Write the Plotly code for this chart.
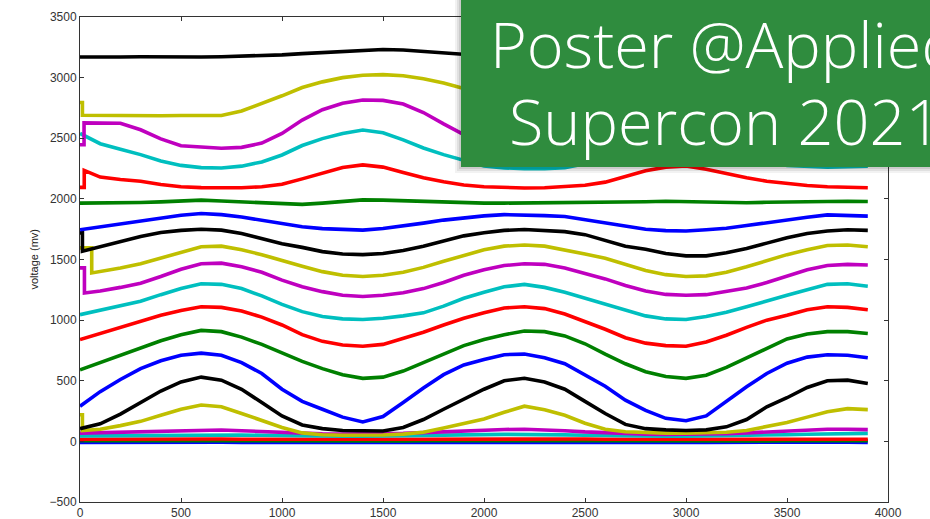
import plotly.graph_objects as go

# ---------------- data ----------------
x_grid = list(range(0, 4000, 100))  # 0 .. 3900

black_top = [3170,3168,3170,3172,3170,3168,3170,3172,3175,3180,3188,3198,3208,3218,3228,3232,3228,3215,3200,3188,
             3180,3175,3172,3172,3175,3185,3198,3210,3220,3228,3230,3225,3212,3198,3185,3178,3175,3175,3178,3185]
yellow_top = [2690,2688,2688,2686,2686,2688,2686,2688,2725,2785,2850,2918,2965,3000,3020,3025,3015,2990,2955,2910,
              2860,2810,2770,2745,2745,2775,2830,2890,2945,2980,2992,2975,2935,2885,2835,2790,2760,2745,2745,2755]
magenta_top = [2627,2627,2624,2570,2495,2438,2425,2418,2425,2460,2540,2650,2735,2788,2815,2812,2782,2712,2618,2530,
               2460,2420,2400,2398,2418,2468,2548,2638,2718,2778,2800,2782,2722,2632,2542,2470,2420,2400,2396,2400]
cyan_top = [2540,2455,2410,2365,2312,2276,2258,2255,2270,2305,2362,2440,2497,2540,2568,2545,2487,2420,2365,2315,
            2272,2256,2248,2248,2258,2290,2345,2420,2495,2545,2562,2540,2480,2400,2320,2275,2265,2262,2265,2270]
red_top = [2235,2180,2160,2145,2118,2100,2093,2090,2092,2100,2120,2165,2215,2258,2280,2262,2218,2175,2142,2115,
           2100,2093,2090,2092,2100,2112,2138,2185,2232,2262,2272,2245,2208,2175,2145,2125,2110,2100,2095,2092]
green_mid = [1965,1965,1968,1970,1975,1985,1990,1982,1975,1965,1958,1955,1965,1980,1992,1990,1985,1978,1972,1968,
             1965,1965,1966,1966,1967,1967,1968,1972,1976,1980,1978,1972,1967,1968,1972,1975,1978,1980,1980,1978]
blue_mid = [1745,1770,1795,1820,1845,1865,1880,1870,1850,1825,1800,1770,1755,1745,1742,1755,1775,1800,1825,1845,
            1860,1870,1868,1862,1855,1830,1805,1775,1750,1738,1735,1745,1758,1780,1805,1830,1848,1868,1865,1858]
black_mid = [1568,1605,1650,1690,1722,1740,1750,1742,1715,1675,1630,1600,1565,1545,1540,1550,1575,1610,1655,1695,
             1720,1740,1748,1742,1730,1705,1655,1610,1585,1550,1530,1530,1555,1590,1635,1680,1715,1735,1745,1740]
yellow_mid = [1389,1400,1430,1465,1510,1560,1605,1610,1580,1540,1490,1445,1400,1370,1360,1370,1395,1435,1485,1535,
              1580,1610,1620,1610,1580,1545,1510,1460,1410,1375,1360,1365,1395,1440,1490,1540,1580,1615,1620,1605]
magenta_mid = [1224,1240,1270,1305,1360,1420,1465,1470,1440,1395,1330,1275,1235,1205,1195,1205,1225,1260,1310,1370,
               1415,1450,1465,1460,1430,1385,1340,1285,1240,1212,1205,1210,1235,1265,1310,1365,1415,1450,1460,1455]
cyan_mid = [1045,1080,1115,1155,1210,1260,1300,1295,1260,1200,1130,1070,1030,1010,1005,1015,1035,1060,1115,1180,
            1230,1275,1295,1270,1230,1180,1135,1080,1035,1010,1005,1030,1065,1110,1160,1205,1250,1295,1300,1280]
red_mid = [840,890,945,990,1040,1080,1110,1105,1075,1025,960,880,825,795,785,800,850,900,960,1015,
           1060,1100,1110,1095,1050,990,925,855,810,790,785,820,875,940,1000,1040,1085,1110,1105,1085]
green_low = [590,650,710,770,830,880,915,905,860,800,730,660,600,550,520,530,580,650,720,790,
             840,880,910,905,870,805,720,640,575,535,520,545,610,690,770,845,885,905,905,890]
blue_low = [290,410,510,600,665,710,728,710,650,560,430,330,265,200,160,205,320,440,550,630,
            675,715,720,690,640,545,455,340,255,190,170,210,330,450,560,645,695,715,710,690]
black_low = [105,145,225,320,415,490,530,505,430,320,210,135,105,90,85,85,115,180,265,350,
             430,500,520,490,430,330,230,140,105,95,90,95,120,180,285,360,445,500,505,478]
yellow_low = [90,100,130,165,215,265,300,285,230,170,115,70,55,50,50,52,60,75,110,150,
              185,240,290,260,215,150,100,80,72,68,68,70,75,90,125,155,200,245,270,262]
magenta_low = [68,72,76,80,86,92,96,94,88,80,72,66,62,60,60,62,66,72,80,88,
               94,98,100,96,88,78,70,64,60,58,58,60,64,70,78,86,94,100,100,97]
cyan_low = [45,46,48,50,52,55,57,56,53,50,47,45,44,43,43,44,45,47,50,53,
            56,58,59,57,54,50,47,45,44,43,43,44,46,48,51,55,59,63,66,66]
red_base = [18,19,18,17,18,19,20,19,18,17,18,18,17,18,19,18,17,18,19,20,
            19,18,18,17,18,19,18,17,18,18,17,18,19,18,17,18,19,20,19,18]
green_base = [5,6,5,4,5,6,7,6,5,4,5,5,4,5,6,5,4,5,6,7,
              6,5,5,4,5,6,5,4,5,5,4,5,6,5,4,5,6,7,6,5]
blue_base = [-8,-7,-8,-9,-8,-7,-6,-7,-8,-9,-8,-8,-9,-8,-7,-8,-9,-8,-7,-6,
             -7,-8,-8,-9,-8,-7,-8,-9,-8,-8,-9,-8,-7,-8,-9,-8,-7,-6,-7,-8]

# initial level before the first step (x of step, level before step)
onsets = {
    "yellow_top": (12, 2795), "magenta_top": (20, 2446), "red_top": (21, 2095),
    "black_mid": (12, 1720), "yellow_mid": (58, 1596), "magenta_mid": (22, 1431),
    "yellow_low": (12, 220),
}

colors = {"b": "#0000ff", "g": "#008000", "r": "#ff0000", "c": "#00bfbf",
          "m": "#bf00bf", "y": "#bfbf00", "k": "#000000"}

series = [
    ("blue_base", blue_base, "b"), ("green_base", green_base, "g"), ("red_base", red_base, "r"),
    ("cyan_low", cyan_low, "c"), ("magenta_low", magenta_low, "m"), ("yellow_low", yellow_low, "y"),
    ("black_low", black_low, "k"), ("blue_low", blue_low, "b"), ("green_low", green_low, "g"),
    ("red_mid", red_mid, "r"), ("cyan_mid", cyan_mid, "c"), ("magenta_mid", magenta_mid, "m"),
    ("yellow_mid", yellow_mid, "y"), ("black_mid", black_mid, "k"), ("blue_mid", blue_mid, "b"),
    ("green_mid", green_mid, "g"), ("red_top", red_top, "r"), ("cyan_top", cyan_top, "c"),
    ("magenta_top", magenta_top, "m"), ("yellow_top", yellow_top, "y"), ("black_top", black_top, "k"),
]

fig = go.Figure()
for name, vals, c in series:
    xs = list(x_grid)
    ys = list(vals)
    if name in onsets:
        xo, v0 = onsets[name]
        xs = [0, xo, xo] + x_grid[1:]
        ys = [v0, v0, vals[0]] + vals[1:]
    fig.add_trace(go.Scatter(x=xs, y=ys, mode="lines", name=name,
                             line=dict(color=colors[c], width=3.6), showlegend=False,
                             hoverinfo="skip"))

axis_common = dict(showgrid=False, zeroline=False, showline=True, linecolor="#333333", linewidth=1,
                   mirror="ticks", ticks="inside", ticklen=4, tickcolor="#333333",
                   tickfont=dict(family="Liberation Sans, Arial, sans-serif", size=12, color="#333333"))

fig.update_layout(
    width=930, height=519,
    margin=dict(l=80, r=42, t=17, b=17, autoexpand=False),
    paper_bgcolor="white", plot_bgcolor="white",
    xaxis=dict(range=[0, 4000], tickvals=[0, 500, 1000, 1500, 2000, 2500, 3000, 3500, 4000], **axis_common),
    yaxis=dict(range=[-500, 3500], tickvals=[-500, 0, 500, 1000, 1500, 2000, 2500, 3000, 3500],
               ticktext=["\u2212500", "0", "500", "1000", "1500", "2000", "2500", "3000", "3500"], **axis_common),
)

# y label
fig.add_annotation(x=(33 - 80) / 808, y=0.5, xref="paper", yref="paper", text="voltage (mv)", textangle=-90,
                   xanchor="center", yanchor="middle", showarrow=False,
                   font=dict(family="Liberation Sans, Arial, sans-serif", size=11, color="#222222"))

# green overlay box with soft shadow
for i, op in enumerate([0.05, 0.07, 0.09]):
    d = (3 - i) * 2.0
    fig.add_shape(type="rect", xref="paper", yref="paper",
                  x0=(461 - 80 - d) / 808, x1=1.1, y0=(502 - 167 - d) / 485, y1=1.1,
                  fillcolor=f"rgba(0,0,0,{op})", line=dict(width=0), layer="above")
fig.add_shape(type="rect", xref="paper", yref="paper",
              x0=(461 - 80) / 808, x1=1.1, y0=(502 - 167) / 485, y1=1.1,
              fillcolor="#2f8c3e", line=dict(width=0), layer="above")

title_font = dict(family="Open Sans, Roboto, Liberation Sans, sans-serif", size=63, color="white", weight=300)
fig.add_annotation(x=(488 - 80) / 808, y=(502 - 43) / 485, xref="paper", yref="paper",
                   xanchor="left", yanchor="middle", text="Poster @Applied", showarrow=False,
                   font=title_font)
fig.add_annotation(x=(507 - 80) / 808, y=(502 - 120) / 485, xref="paper", yref="paper",
                   xanchor="left", yanchor="middle", text="Supercon 2021", showarrow=False,
                   font=title_font)

fig.write_html("out.html", config={"displayModeBar": False},
               post_script="document.body.style.margin='0';document.body.style.overflow='hidden';")
